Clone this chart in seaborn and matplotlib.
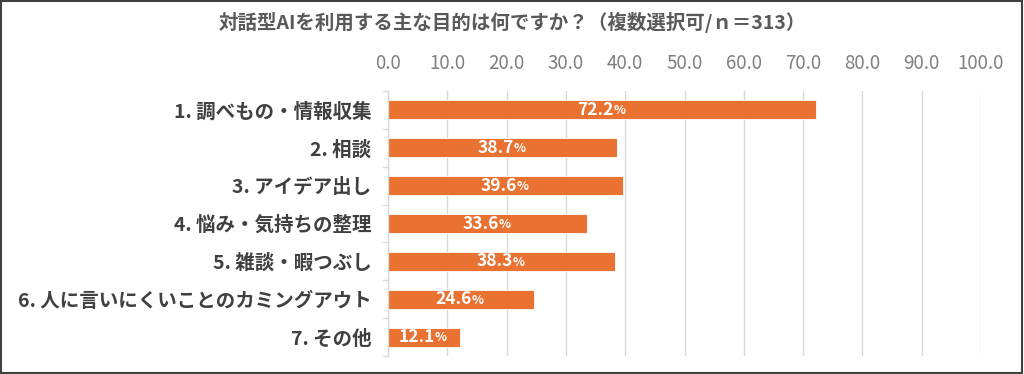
import matplotlib
matplotlib.use("Agg")
import matplotlib.pyplot as plt
import seaborn as sns
import pandas as pd
from matplotlib.patches import Rectangle

categories = [
    "1. 調べもの・情報収集",
    "2. 相談",
    "3. アイデア出し",
    "4. 悩み・気持ちの整理",
    "5. 雑談・暇つぶし",
    "6. 人に言いにくいことのカミングアウト",
    "7. その他",
]
values = [72.2, 38.7, 39.6, 33.6, 38.3, 24.6, 12.1]
xticks = [0, 10, 20, 30, 40, 50, 60, 70, 80, 90, 100]
title = "対話型AIを利用する主な目的は何ですか？（複数選択可/ｎ＝313）"

sns.set_theme(style="white")
plt.rcParams["font.family"] = ["Noto Sans CJK JP", "DejaVu Sans"]

df = pd.DataFrame({"cat": categories, "val": values})

fig = plt.figure(figsize=(10.24, 3.74), dpi=100)
ax = fig.add_axes([388 / 1024, 1 - 356 / 374, (981 - 388) / 1024, (356 - 91) / 374])

sns.barplot(data=df, y="cat", x="val", color="#E97132", width=0.5, ax=ax,
            saturation=1, edgecolor="white", linewidth=0.6)

ax.set_xlim(0, 100)
ax.set_xticks(xticks)
ax.set_xticklabels([f"{t:.1f}" for t in xticks])
ax.xaxis.tick_top()
ax.tick_params(axis="x", length=0, labelsize=13.5, labelcolor="#7F7F7F", pad=12)
ax.set_xlabel("")
ax.set_ylabel("")
ax.xaxis.grid(True, color="#D9D9D9", linewidth=1)
ax.set_axisbelow(True)
for s in ["top", "right", "bottom"]:
    ax.spines[s].set_visible(False)
ax.spines["left"].set_color("#D9D9D9")
ax.spines["left"].set_linewidth(1)

# y tick labels and boundary ticks
ax.set_yticks(range(len(categories)))
ax.set_yticklabels(categories)
ax.tick_params(axis="y", length=0, labelsize=14, labelcolor="#404040", pad=12)
for lab in ax.get_yticklabels():
    lab.set_fontweight("bold")
ax.set_ylim(len(categories) - 0.5, -0.5)
for b in [i - 0.5 for i in range(len(categories) + 1)]:
    ax.plot([-0.8, 0], [b, b], color="#D9D9D9", lw=1, clip_on=False, transform=ax.transData)

# value labels
for i, v in enumerate(values):
    t = ax.text(v / 2 - 1.2, i, f"{v:.1f}", ha="center", va="center",
                color="white", fontsize=12.5, fontweight="bold")
    ax.annotate("%", xy=(1, 0.45), xycoords=t, va="center", ha="left",
                color="white", fontsize=9, fontweight="bold")

fig.text(512 / 1024, 1 - 22 / 374, title, ha="center", va="center",
         fontsize=14, fontweight="bold", color="#595959")

fig.patches.append(Rectangle((0.001, 0.002), 0.997, 0.995, transform=fig.transFigure,
                             fill=False, edgecolor="#404040", linewidth=1.5))

fig.savefig("out.png", dpi=100, facecolor="white")
